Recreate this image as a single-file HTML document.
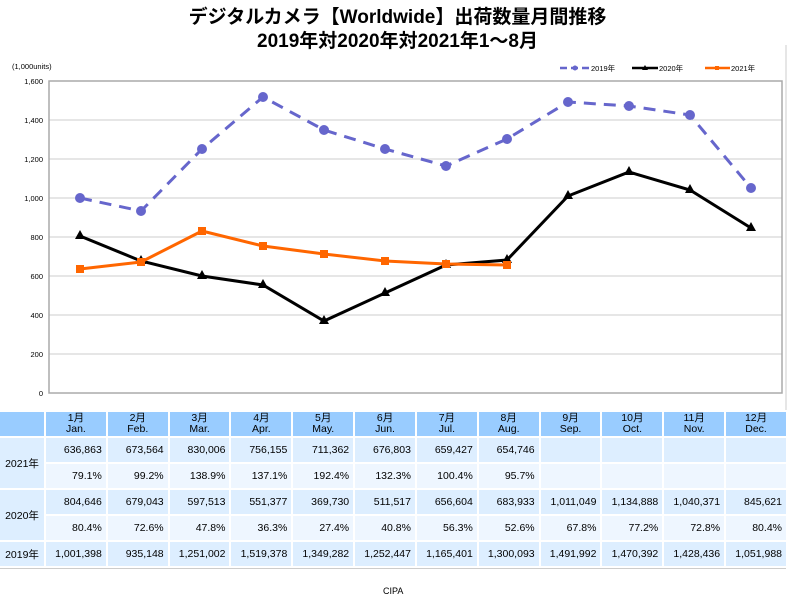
<!DOCTYPE html>
<html><head><meta charset="utf-8"><style>
body{margin:0;width:800px;height:599px;background:#fff;font-family:"Liberation Sans","Noto Sans CJK JP",sans-serif;position:relative;overflow:hidden}
.t{position:absolute;left:0;width:795px;text-align:center;font-weight:bold;font-size:19px;color:#000}
table{position:absolute;left:0;top:410px;border-collapse:separate;border-spacing:2px;width:790px;margin-left:-2px;font-size:10.5px;table-layout:fixed}
td{height:24px;padding:0 4px;text-align:right;background:#ddeeff}
tr.h td{background:#99ccff;text-align:center;line-height:11px;height:24px}
tr.b td{background:#eef6ff}
td.l{text-align:center;background:#ddeeff}
</style></head><body>
<div class="t" style="top:2px">デジタルカメラ【Worldwide】出荷数量月間推移</div>
<div class="t" style="top:26px">2019年対2020年対2021年1～8月</div>
<svg width="800" height="410" style="position:absolute;left:0;top:0" font-family="Liberation Sans,Noto Sans CJK JP,sans-serif">
<line x1="786" y1="45" x2="786" y2="410" stroke="#ccc"/>
<g stroke="#ddd" stroke-width="1.5">
<line x1="49" x2="782" y1="120" y2="120"/><line x1="49" x2="782" y1="159" y2="159"/><line x1="49" x2="782" y1="198" y2="198"/><line x1="49" x2="782" y1="237" y2="237"/><line x1="49" x2="782" y1="276" y2="276"/><line x1="49" x2="782" y1="315" y2="315"/><line x1="49" x2="782" y1="354" y2="354"/>
</g>
<rect x="49" y="81" width="733" height="312" fill="none" stroke="#aaa" stroke-width="1.5"/>
<g font-size="7.5" text-anchor="end" fill="#000">
<text x="43" y="84">1,600</text><text x="43" y="123">1,400</text><text x="43" y="162">1,200</text><text x="43" y="201">1,000</text><text x="43" y="240">800</text><text x="43" y="279">600</text><text x="43" y="318">400</text><text x="43" y="357">200</text><text x="43" y="396">0</text>
</g>
<text x="12" y="69" font-size="7.5">(1,000units)</text>
<g font-size="7.5">
<line x1="560" x2="590" y1="68" y2="68" stroke="#6666cc" stroke-width="2.5" stroke-dasharray="7,4"/><circle cx="575" cy="68" r="2.5" fill="#6666cc"/><text x="591" y="71">2019年</text>
<line x1="632" x2="658" y1="68" y2="68" stroke="#000" stroke-width="2.5"/><polygon points="645,65 648,70 642,70"/><text x="659" y="71">2020年</text>
<line x1="705" x2="730" y1="68" y2="68" stroke="#ff6600" stroke-width="2.5"/><rect x="715" y="66" width="4" height="4" fill="#ff6600"/><text x="731" y="71">2021年</text>
</g>
<polyline fill="none" stroke="#6666cc" stroke-width="3" stroke-dasharray="12,8" points="80,198 141,211 202,149 263,97 324,130 385,149 446,166 507,139 568,102 629,106 690,115 751,188"/>
<g fill="#6666cc"><circle cx="80" cy="198" r="5"/><circle cx="141" cy="211" r="5"/><circle cx="202" cy="149" r="5"/><circle cx="263" cy="97" r="5"/><circle cx="324" cy="130" r="5"/><circle cx="385" cy="149" r="5"/><circle cx="446" cy="166" r="5"/><circle cx="507" cy="139" r="5"/><circle cx="568" cy="102" r="5"/><circle cx="629" cy="106" r="5"/><circle cx="690" cy="115" r="5"/><circle cx="751" cy="188" r="5"/></g>
<polyline fill="none" stroke="#000" stroke-width="3" points="80,236 141,261 202,276 263,285 324,321 385,293 446,265 507,260 568,196 629,172 690,190 751,228"/>
<g fill="#000">
<polygon points="80,230 85,239 75,239"/><polygon points="141,255 146,264 136,264"/><polygon points="202,270 207,279 197,279"/><polygon points="263,279 268,288 258,288"/><polygon points="324,315 329,324 319,324"/><polygon points="385,287 390,296 380,296"/><polygon points="446,259 451,268 441,268"/><polygon points="507,254 512,263 502,263"/><polygon points="568,190 573,199 563,199"/><polygon points="629,166 634,175 624,175"/><polygon points="690,184 695,193 685,193"/><polygon points="751,222 756,231 746,231"/>
</g>
<polyline fill="none" stroke="#ff6600" stroke-width="3" points="80,269 141,262 202,231 263,246 324,254 385,261 446,264 507,265"/>
<g fill="#ff6600"><rect x="76" y="265" width="8" height="8"/><rect x="137" y="258" width="8" height="8"/><rect x="198" y="227" width="8" height="8"/><rect x="259" y="242" width="8" height="8"/><rect x="320" y="250" width="8" height="8"/><rect x="381" y="257" width="8" height="8"/><rect x="442" y="260" width="8" height="8"/><rect x="503" y="261" width="8" height="8"/></g>
</svg>
<table>
<colgroup><col style="width:44px"><col span="12"></colgroup>
<tr class="h"><td></td><td>1月<br>Jan.</td><td>2月<br>Feb.</td><td>3月<br>Mar.</td><td>4月<br>Apr.</td><td>5月<br>May.</td><td>6月<br>Jun.</td><td>7月<br>Jul.</td><td>8月<br>Aug.</td><td>9月<br>Sep.</td><td>10月<br>Oct.</td><td>11月<br>Nov.</td><td>12月<br>Dec.</td></tr>
<tr><td class="l" rowspan="2">2021年</td><td>636,863</td><td>673,564</td><td>830,006</td><td>756,155</td><td>711,362</td><td>676,803</td><td>659,427</td><td>654,746</td><td></td><td></td><td></td><td></td></tr>
<tr class="b"><td>79.1%</td><td>99.2%</td><td>138.9%</td><td>137.1%</td><td>192.4%</td><td>132.3%</td><td>100.4%</td><td>95.7%</td><td></td><td></td><td></td><td></td></tr>
<tr><td class="l" rowspan="2">2020年</td><td>804,646</td><td>679,043</td><td>597,513</td><td>551,377</td><td>369,730</td><td>511,517</td><td>656,604</td><td>683,933</td><td>1,011,049</td><td>1,134,888</td><td>1,040,371</td><td>845,621</td></tr>
<tr class="b"><td>80.4%</td><td>72.6%</td><td>47.8%</td><td>36.3%</td><td>27.4%</td><td>40.8%</td><td>56.3%</td><td>52.6%</td><td>67.8%</td><td>77.2%</td><td>72.8%</td><td>80.4%</td></tr>
<tr><td class="l">2019年</td><td>1,001,398</td><td>935,148</td><td>1,251,002</td><td>1,519,378</td><td>1,349,282</td><td>1,252,447</td><td>1,165,401</td><td>1,300,093</td><td>1,491,992</td><td>1,470,392</td><td>1,428,436</td><td>1,051,988</td></tr>
</table>
<div style="position:absolute;left:0;top:568px;width:786px;border-top:1px solid #ccc"></div>
<div style="position:absolute;left:383px;top:586px;font-size:9px">CIPA</div>
</body></html>
